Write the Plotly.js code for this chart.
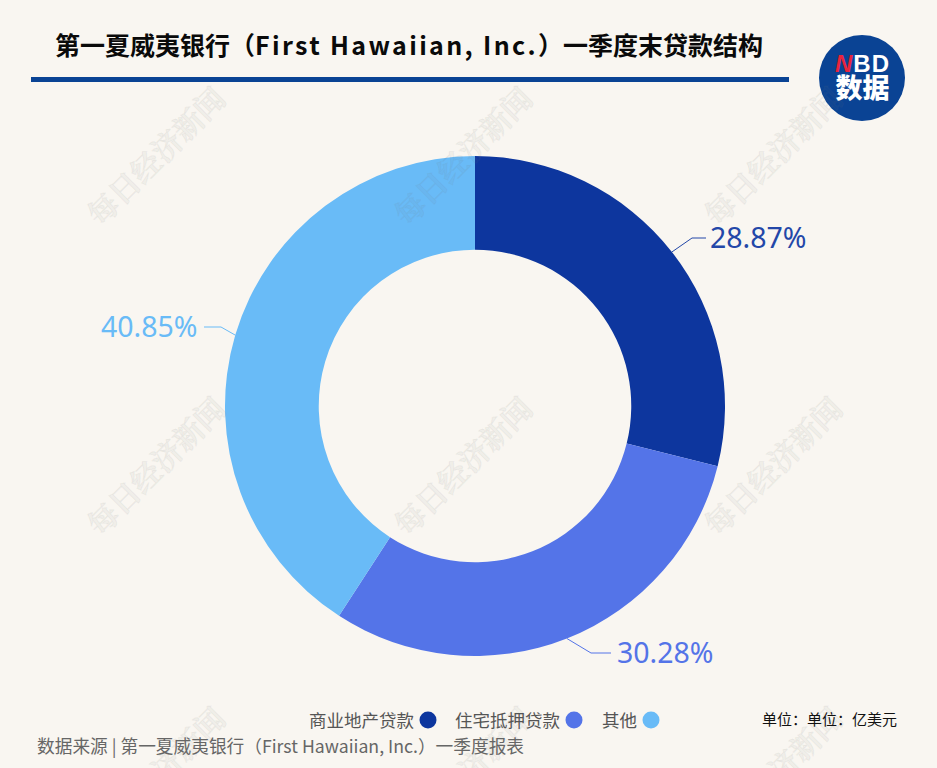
<!DOCTYPE html>
<html><head><meta charset="utf-8">
<script src="https://cdn.plot.ly/plotly-3.0.1.min.js"></script>
<style>html,body{margin:0;padding:0;background:#f9f6f1;overflow:hidden}#c{width:937px;height:768px}</style>
</head><body><div id="c"></div>
<script>
const categories = ['商业地产贷款','住宅抵押贷款','其他'];
const shares = [28.87,30.28,40.85];
const colors = ['#0d369e','#5474e8','#69bbf7'];
const labelColors = ['#2347a8','#5474e8','#69bbf7'];
const titleText = '第一夏威夷银行（<span style="letter-spacing:2.35px">First Hawaiian, Inc.</span>）一季度末贷款结构';
const sourceText = '数据来源 | 第一夏威夷银行（First Hawaiian, Inc.）一季度报表';
const unitText = '单位：单位：亿美元';
const watermark = '每日经济新闻';
const logoText = '<span style="font-size:24px;font-family:Liberation Sans;letter-spacing:1px;font-style:italic;fill:#e8243c">N</span><span style="font-size:24px;font-family:Liberation Sans;letter-spacing:1px">BD</span><br><span style="font-size:27px">数据</span>';

const W=937,H=768, CJK='"Noto Sans CJK SC","Noto Sans",sans-serif';
const px=x=>x/W, py=y=>1-y/H;
const cx=475, cy=406, R=250;
const note=(x,y,text,size,color,anchor,extra)=>Object.assign({xref:'paper',yref:'paper',x:px(x),y:py(y),text,showarrow:false,
  xanchor:anchor||'left',yanchor:'middle',font:{family:CJK,size,color}},extra||{});
const annotations=[], shapes=[];

// watermarks
[155,462,772].forEach(x=>[155,465,775].forEach(y=>{
  annotations.push(note(x,y,watermark,30,'rgba(120,120,120,0.075)','center',{textangle:-45,font:{family:'"Noto Serif CJK SC","Noto Sans CJK SC",sans-serif',size:30,color:'rgba(120,120,120,0.075)',weight:700}}));
}));

// title and rule
annotations.push(note(53,44,titleText,25,'#0a0a0a','left',{font:{family:CJK,size:25,color:'#0a0a0a',weight:700}}));
shapes.push({type:'rect',xref:'paper',yref:'paper',x0:px(31),x1:px(789),y0:py(77),y1:py(82),fillcolor:'#0a4394',line:{width:0}});

// logo
shapes.push({type:'circle',xref:'paper',yref:'paper',x0:px(819),x1:px(905),y0:py(35),y1:py(121),fillcolor:'#0a4394',line:{width:0}});
annotations.push(note(862,78,logoText,20,'#ffffff','center',{font:{family:CJK,size:20,color:'#ffffff',weight:800}}));

// data labels with leader lines derived from the values
const labelPos=[{tx:708,ty:237,mx:692,ex:706,anchor:'left'},{tx:615,ty:652,mx:591,ex:611,anchor:'left'},{tx:200,ty:326,mx:221,ex:204,anchor:'right'}];
let acc=0;
shares.forEach((v,i)=>{
  const total=shares.reduce((a,b)=>a+b,0), mid=(acc+v/2)/total*2*Math.PI; acc+=v;
  const sx=cx+R*Math.sin(mid), sy=cy-R*Math.cos(mid), p=labelPos[i];
  shapes.push({type:'path',xref:'paper',yref:'paper',path:`M${px(sx)},${py(sy)} L${px(p.mx)},${py(p.ty+1)} L${px(p.ex)},${py(p.ty+1)}`,line:{color:labelColors[i],width:1}});
  annotations.push(note(p.tx,p.ty,v.toFixed(2)+'%',28.5,labelColors[i],p.anchor,{font:{family:'"Noto Sans",sans-serif',size:28.5,color:labelColors[i]}}));
});

// legend (text left of its dot)
const legendPos=[[307,428],[453,574],[600,651]];
categories.forEach((c,i)=>{
  annotations.push(note(legendPos[i][0],719,c,17.5,'#555555','left'));
  const x=legendPos[i][1];
  shapes.push({type:'circle',xref:'paper',yref:'paper',x0:px(x-8.5),x1:px(x+8.5),y0:py(711.5),y1:py(728.5),fillcolor:colors[i],line:{width:0}});
});
annotations.push(note(760,718,unitText,15,'#111111','left'));
annotations.push(note(35,745,sourceText,17.7,'#666666','left'));

Plotly.newPlot('c',[{type:'pie',labels:categories,values:shares,hole:0.625,sort:false,direction:'clockwise',rotation:0,
  marker:{colors:colors,line:{width:0}},textinfo:'none',hoverinfo:'label+percent',
  domain:{x:[px(cx-R),px(cx+R)],y:[py(cy+R),py(cy-R)]}}],
 {width:W,height:H,margin:{l:0,r:0,t:0,b:0},paper_bgcolor:'#f9f6f1',plot_bgcolor:'#f9f6f1',showlegend:false,annotations,shapes},
 {displayModeBar:false}).then(()=>{
  document.querySelectorAll('text.annotation-text').forEach(t=>{
    if(t.textContent===watermark){t.style.stroke='rgba(120,120,120,0.075)';t.style.strokeWidth='1.2px';}
  });
 });
</script></body></html>
